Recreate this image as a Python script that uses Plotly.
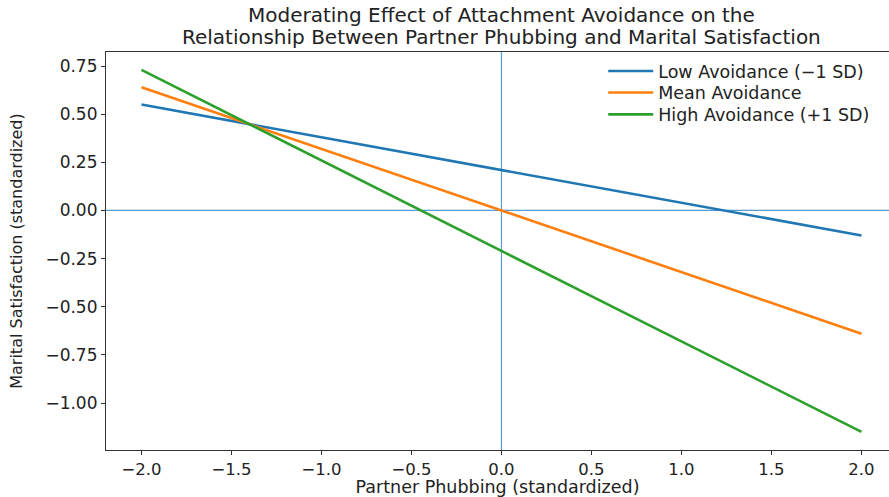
import plotly.graph_objects as go

x_vals = [-2.0, 2.0]
low_avoid = [0.55, -0.13]
mean_avoid = [0.64, -0.64]
high_avoid = [0.73, -1.15]
series_names = ["Low Avoidance (\u22121 SD)", "Mean Avoidance", "High Avoidance (+1 SD)"]
colors = ["#1f77b4", "#ff7f0e", "#2ca02c"]
x_ticks = [-2.0, -1.5, -1.0, -0.5, 0.0, 0.5, 1.0, 1.5, 2.0]
y_ticks = [0.75, 0.5, 0.25, 0.0, -0.25, -0.5, -0.75, -1.0]
title_lines = ["Moderating Effect of Attachment Avoidance on the",
               "Relationship Between Partner Phubbing and Marital Satisfaction"]

font = "DejaVu Sans"
legend_ids = ["legend", "legend2", "legend3"]
legend_y = [0.952, 0.898, 0.843]

fig = go.Figure()
for name, ys, c, lg in zip(series_names, [low_avoid, mean_avoid, high_avoid], colors, legend_ids):
    fig.add_trace(go.Scatter(x=x_vals, y=ys, mode="lines", name=name, legend=lg,
                             line=dict(color=c, width=2.6)))

fig.add_hline(y=0, line=dict(color="#5a9bd0", width=1.2), layer="below")
fig.add_vline(x=0, line=dict(color="#5a9bd0", width=1.2), layer="below")

for txt, yy in zip(title_lines, [1.092, 1.037]):
    fig.add_annotation(text=txt, xref="paper", yref="paper", x=0.5045, y=yy,
                       xanchor="center", yanchor="middle", showarrow=False,
                       font=dict(family=font, size=20, color="#222"))

legend_style = dict(x=0.635, xanchor="left", yanchor="middle",
                    bgcolor="rgba(0,0,0,0)", font=dict(family=font, size=17.5, color="#222"),
                    itemwidth=45)
fig.update_layout(
    width=889, height=497,
    margin=dict(l=106, r=0, t=52, b=47, autoexpand=False),
    paper_bgcolor="white", plot_bgcolor="white",
    font=dict(family=font, size=16, color="#222"),
    legend=dict(y=legend_y[0], **legend_style),
    legend2=dict(y=legend_y[1], **legend_style),
    legend3=dict(y=legend_y[2], **legend_style),
    showlegend=True,
)
fig.update_xaxes(range=[-2.197, 2.153], tickvals=x_ticks, tickformat=".1f",
                 automargin=False, tickfont=dict(size=16.5),
                 showgrid=False, zeroline=False, showline=True, linecolor="#333",
                 linewidth=1.2, mirror=True, ticks="outside", ticklen=4, tickcolor="#333",
                 title=dict(text="Partner Phubbing (standardized)", font=dict(size=17.5), standoff=6))
fig.update_yaxes(range=[-1.244, 0.823], tickvals=y_ticks, tickformat=".2f",
                 automargin=False, tickfont=dict(size=17),
                 showgrid=False, zeroline=False, showline=True, linecolor="#333",
                 linewidth=1.2, ticks="outside", ticklen=4, tickcolor="#333",
                 title=dict(text="Marital Satisfaction (standardized)", font=dict(size=16), standoff=18))

fig.write_html("out.html", config={"displayModeBar": False},
               post_script="document.body.style.margin='0px';")
